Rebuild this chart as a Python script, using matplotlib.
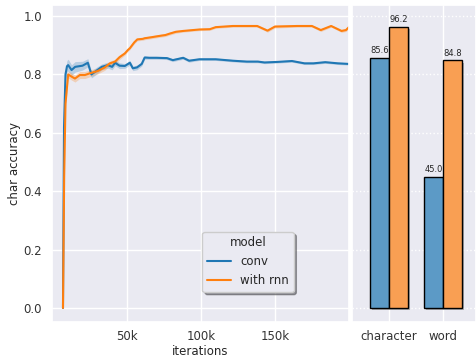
import matplotlib
matplotlib.use("Agg")
import matplotlib.pyplot as plt
import matplotlib.patheffects as pe
import numpy as np
import seaborn as sns

sns.set_theme(style="darkgrid")
plt.rcParams['font.family'] = ['DejaVu Sans']

# training curves (iterations in thousands)
conv_steps = [6.8, 7.5, 8.5, 9.5, 10.3, 12.6, 15, 20, 23.6, 26, 29.5, 33, 37, 40, 42, 45,
              48.6, 52, 54, 56.8, 60, 62, 65, 70, 77, 81, 88, 92, 99, 110, 121.6, 131,
              138.5, 143, 152, 161.5, 170, 176, 184, 192.6, 200]
conv_acc = [0.0, 0.62, 0.80, 0.828, 0.832, 0.815, 0.826, 0.83, 0.84, 0.80, 0.813, 0.826,
            0.832, 0.826, 0.84, 0.83, 0.829, 0.84, 0.821, 0.824, 0.836, 0.858, 0.857,
            0.857, 0.856, 0.849, 0.857, 0.847, 0.852, 0.852, 0.847, 0.844, 0.844, 0.841,
            0.843, 0.846, 0.838, 0.838, 0.842, 0.838, 0.836]
conv_err = [0.0, 0.02, 0.02, 0.02, 0.02, 0.018, 0.018, 0.015, 0.014, 0.012, 0.012, 0.01,
            0.01, 0.01, 0.01, 0.01, 0.008, 0.008, 0.008, 0.008, 0.007, 0.006, 0.005,
            0.005, 0.005, 0.005, 0.005, 0.005, 0.004, 0.004, 0.004, 0.004, 0.004, 0.004,
            0.004, 0.004, 0.004, 0.004, 0.004, 0.004, 0.004]

rnn_steps = [6.8, 7.6, 8.5, 10.3, 12.8, 14.9, 18.2, 21.6, 25, 30.4, 35, 38.5, 42, 45, 48.6,
             50.7, 52, 55, 57, 60.8, 62, 66, 72, 76, 79, 83, 88, 99, 106, 110, 121.6, 133,
             138, 145, 150, 165, 175, 181, 188, 195, 198, 200]
rnn_acc = [0.0, 0.45, 0.70, 0.80, 0.792, 0.786, 0.798, 0.798, 0.804, 0.812, 0.824, 0.838,
           0.844, 0.859, 0.872, 0.884, 0.89, 0.91, 0.92, 0.922, 0.924, 0.927, 0.932,
           0.935, 0.94, 0.946, 0.949, 0.954, 0.955, 0.962, 0.966, 0.966, 0.966, 0.95,
           0.964, 0.966, 0.966, 0.952, 0.966, 0.949, 0.952, 0.962]
rnn_err = [0.0, 0.015, 0.015, 0.012, 0.012, 0.012, 0.012, 0.012, 0.012, 0.01, 0.01, 0.008,
           0.008, 0.008, 0.006, 0.005, 0.005, 0.005, 0.005, 0.005, 0.005, 0.005, 0.005,
           0.005, 0.005, 0.005, 0.004, 0.004, 0.004, 0.004, 0.004, 0.004, 0.004, 0.005,
           0.005, 0.004, 0.004, 0.005, 0.004, 0.005, 0.005, 0.005]

# final accuracy (percent)
levels = ["character", "word"]
conv_final = [85.6, 45.0]
rnn_final = [96.2, 84.8]
models = ["conv", "with rnn"]

blue = "#1f77b4"
orange = "#ff7f0e"
# bar faces: the same colours at 0.7 alpha over the axes background
blue_face = "#5c9ac6"
orange_face = "#f99f53"

fig = plt.figure(figsize=(4.76, 3.6), dpi=100)
ax = fig.add_axes([0.109, 0.1056, 0.624, 0.8806])
ax2 = fig.add_axes([0.7395, 0.1056, 0.2605, 0.8806])

for steps, acc, err, c, name in [(conv_steps, conv_acc, conv_err, blue, models[0]),
                                  (rnn_steps, rnn_acc, rnn_err, orange, models[1])]:
    s = np.array(steps) * 1000
    a = np.array(acc)
    e = np.array(err)
    ax.fill_between(s, a - e, a + e, color=c, alpha=0.25, linewidth=0)
    ax.plot(s, a, color=c, linewidth=1.5, label=name)

ax.set_xlim(-700, 200000)
ax.set_ylim(-0.048, 1.038)
ax.set_xticks([50000, 100000, 150000])
ax.set_xticklabels(["50k", "100k", "150k"])
ax.set_yticks([0.0, 0.2, 0.4, 0.6, 0.8, 1.0])
ax.tick_params(axis="y", labelsize=8.5, length=0, pad=7, colors="#333333")
ax.tick_params(axis="x", labelsize=8.5, length=0, pad=6, colors="#333333")
ax.set_xlabel("iterations", fontsize=8.5, labelpad=1)
ax.set_ylabel("char accuracy", fontsize=8.5, labelpad=2)
leg = ax.legend(title="model", loc="lower center", bbox_to_anchor=(0.66, 0.095),
                borderaxespad=0, shadow=True, fontsize=8.5, title_fontsize=8.5,
                framealpha=1)

# bar panel
x = np.arange(len(levels))
w = 0.35
shadow = [pe.SimplePatchShadow(offset=(1.5, -1.5), shadow_rgbFace="gray", alpha=0.6), pe.Normal()]
b1 = ax2.bar(x - w / 2, conv_final, w, color=blue_face, edgecolor="black", linewidth=1)
b2 = ax2.bar(x + w / 2, rnn_final, w, color=orange_face, edgecolor="black", linewidth=1)
for bars in (b1, b2):
    for b in bars:
        b.set_path_effects(shadow)
    ax2.bar_label(bars, fmt="%.1f", fontsize=6, padding=2)

ax2.set_xlim(-0.685, 1.61)
ax2.set_ylim(-4.8, 103.8)
ax2.set_xticks(x)
ax2.set_xticklabels(levels)
ax2.set_yticks([0, 20, 40, 60, 80, 100])
ax2.set_yticklabels([])
ax2.tick_params(labelsize=8.5, length=0, pad=6, colors="#333333")
ax2.grid(axis="y", linestyle=":", color="white")

fig.savefig("out.png", dpi=100)
